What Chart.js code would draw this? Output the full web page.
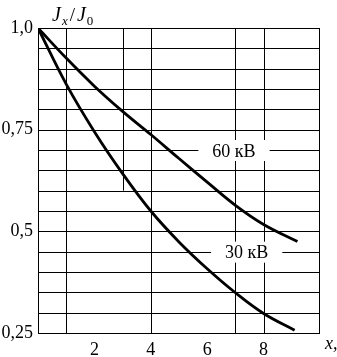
<!DOCTYPE html>
<html><head><meta charset="utf-8">
<script src="https://cdn.jsdelivr.net/npm/chart.js@4"></script>
<style>html,body{margin:0;padding:0;background:#fff}#wrap{width:337px;height:357px}canvas{display:block}</style>
</head><body>
<div id="wrap"><canvas id="c" width="337" height="357"></canvas></div>
<script>
// ---- data ----
const x60 = [0, 1, 2, 3, 4, 5, 6, 7, 8, 9.2];
const y60 = [1.0, 0.926, 0.857, 0.795, 0.738, 0.679, 0.621, 0.564, 0.517, 0.475];
const x30 = [0, 1, 2, 3, 4, 5, 6, 7, 8, 9.1];
const y30 = [1.0, 0.862, 0.745, 0.642, 0.550, 0.474, 0.408, 0.349, 0.298, 0.257];
const seriesNames = ['60 кВ', '30 кВ'];
const xTickVals = [2, 4, 6, 8];
const xTickLabels = ['2', '4', '6', '8'];
const yTickVals = [1.0, 0.75, 0.5, 0.25];
const yTickLabels = ['1,0', '0,75', '0,5', '0,25'];
const gridXFull = [1, 4, 7, 8];
const gridXPartial = [3];           // runs from the top down to y = 0.6
const gridXPartialEnd = 0.6;
const gridY = [0.95, 0.9, 0.85, 0.8, 0.75, 0.7, 0.65, 0.6, 0.55, 0.5, 0.45, 0.4, 0.35, 0.3];
const labelPos = [{x: 6.95, y: 0.7}, {x: 7.4, y: 0.45}];

const SERIF = '"Liberation Serif", "DejaVu Serif", serif';

const gridPlugin = {
  id: 'paperGrid',
  beforeDatasetsDraw(chart) {
    const {ctx, chartArea: a, scales: {x, y}} = chart;
    ctx.save();
    ctx.strokeStyle = '#000';
    ctx.lineWidth = 1;
    ctx.beginPath();
    gridXFull.forEach(v => {
      const px = Math.round(x.getPixelForValue(v)) + 0.5;
      ctx.moveTo(px, a.top); ctx.lineTo(px, a.bottom);
    });
    gridXPartial.forEach(v => {
      const px = Math.round(x.getPixelForValue(v)) + 0.5;
      ctx.moveTo(px, a.top); ctx.lineTo(px, y.getPixelForValue(gridXPartialEnd));
    });
    gridY.forEach(v => {
      const py = Math.round(y.getPixelForValue(v)) + 0.5;
      ctx.moveTo(a.left, py); ctx.lineTo(a.right, py);
    });
    ctx.stroke();
    // frame
    ctx.strokeRect(Math.round(a.left) + 0.5, Math.round(a.top) + 0.5,
                   Math.round(a.right - a.left) - 1, Math.round(a.bottom - a.top));
    // curve labels, interrupting the grid
    ctx.font = '18px ' + SERIF;
    ctx.textAlign = 'center';
    ctx.textBaseline = 'middle';
    seriesNames.forEach((name, i) => {
      const cx = x.getPixelForValue(labelPos[i].x);
      const cy = y.getPixelForValue(labelPos[i].y);
      const w = ctx.measureText(name).width + 28;
      ctx.fillStyle = '#fff';
      ctx.fillRect(cx - w / 2, cy - 10, w, 21);
      ctx.fillStyle = '#000';
      ctx.fillText(name, cx, cy + 2);
    });
    ctx.restore();
  },
  afterDraw(chart) {
    const {ctx, chartArea: a} = chart;
    ctx.save();
    ctx.fillStyle = '#000';
    ctx.textBaseline = 'alphabetic';
    ctx.textAlign = 'left';
    // title J_x / J_0
    let px = a.left + 14;
    const base = 21;
    const parts = [
      ['J', 'italic 20px ' + SERIF, 0, 1],
      ['x', 'italic 13px ' + SERIF, 4, 2],
      ['/', '19px ' + SERIF, 0, 2],
      ['J', 'italic 20px ' + SERIF, 0, 1],
      ['0', '13px ' + SERIF, 4, 0]
    ];
    parts.forEach(([t, f, dy, gap]) => {
      ctx.font = f;
      ctx.fillText(t, px, base + dy);
      px += ctx.measureText(t).width + gap;
    });
    // axis name x,
    ctx.font = 'italic 18px ' + SERIF;
    ctx.fillText('x,', a.right + 5, a.bottom + 16);
    ctx.restore();
  }
};

const mk = (xs, ys) => xs.map((v, i) => ({x: v, y: ys[i]}));

new Chart(document.getElementById('c'), {
  type: 'scatter',
  data: {
    datasets: [
      {label: seriesNames[0], data: mk(x60, y60), showLine: true, borderColor: '#000', borderWidth: 2.8,
       pointRadius: 0, tension: 0.4, fill: false},
      {label: seriesNames[1], data: mk(x30, y30), showLine: true, borderColor: '#000', borderWidth: 2.8,
       pointRadius: 0, tension: 0.4, fill: false}
    ]
  },
  options: {
    responsive: false,
    animation: false,
    devicePixelRatio: 1,
    layout: {padding: {top: 28, right: 17, left: 0, bottom: 0}},
    plugins: {legend: {display: false}, tooltip: {enabled: false}},
    scales: {
      x: {
        type: 'linear', min: 0, max: 10,
        afterBuildTicks: s => { s.ticks = xTickVals.map(v => ({value: v})); },
        afterFit: s => { s.height = 24; },
        grid: {display: false, drawTicks: false},
        border: {display: false},
        ticks: {
          autoSkip: false, maxRotation: 0, padding: 6, color: '#000',
          font: {family: SERIF, size: 18},
          callback: v => xTickLabels[xTickVals.indexOf(v)]
        }
      },
      y: {
        type: 'linear', min: 0.25, max: 1.0,
        afterBuildTicks: s => { s.ticks = yTickVals.map(v => ({value: v})); },
        afterFit: s => { s.width = 38; },
        grid: {display: false, drawTicks: false},
        border: {display: false},
        ticks: {
          autoSkip: false, padding: 5, color: '#000',
          font: {family: SERIF, size: 18},
          callback: v => yTickLabels[yTickVals.indexOf(v)]
        }
      }
    }
  },
  plugins: [gridPlugin]
});
</script>
</body></html>
